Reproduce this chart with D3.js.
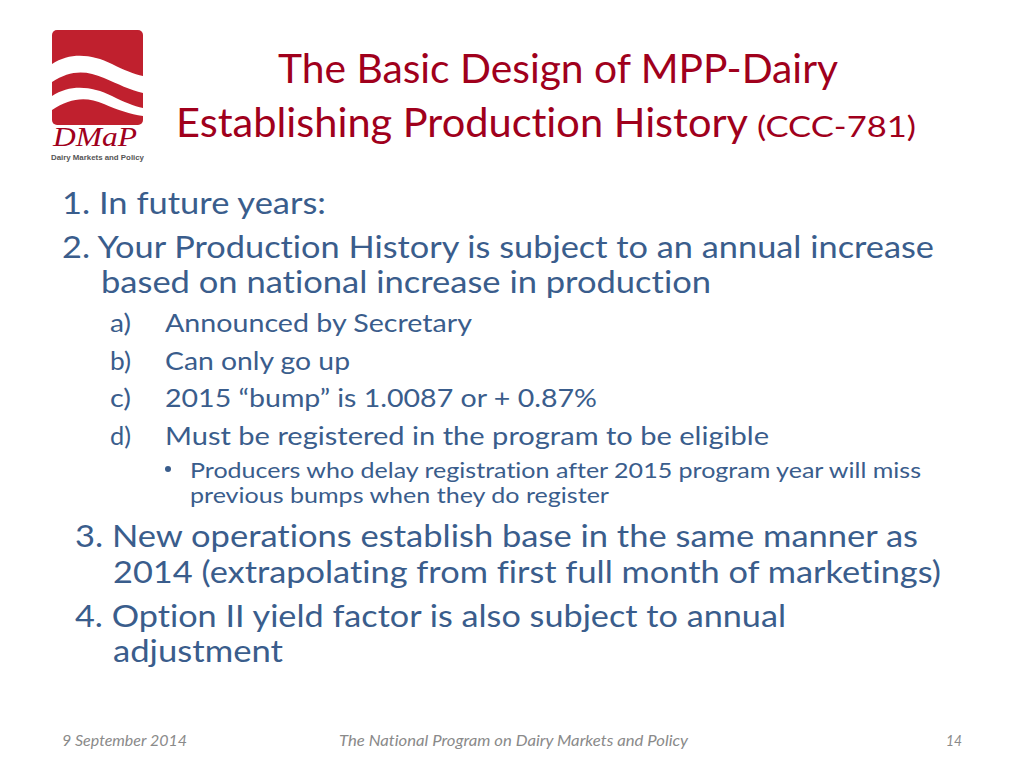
<!DOCTYPE html>
<html>
<head>
<meta charset="utf-8">
<script src="https://cdn.jsdelivr.net/npm/d3@7"></script>
<style>
  html, body { margin: 0; padding: 0; background: #fff; }
  svg { display: block; }
  text { font-variant-ligatures: none; font-feature-settings: "liga" 0, "clig" 0; }
</style>
</head>
<body>
<svg id="slide" width="1024" height="768"></svg>
<script>
// ---- content (text only) ----
const titleLines = ["The Basic Design of MPP-Dairy", "Establishing Production History"];
const titleSuffix = "(CCC-781)";
const levelOne = ["1. In future years:", "2. Your Production History is subject to an annual increase", "based on national increase in production"];
const subLabels = ["a)", "b)", "c)", "d)"];
const subItems = ["Announced by Secretary", "Can only go up", "2015 \u201cbump\u201d is 1.0087 or + 0.87%", "Must be registered in the program to be eligible"];
const bulletLines = ["Producers who delay registration after 2015 program year will miss", "previous bumps when they do register"];
const laterLines = ["3. New operations establish base in the same manner as", "2014 (extrapolating from first full month of marketings)", "4. Option II yield factor is also subject to annual", "adjustment"];
const footerTexts = ["9 September 2014", "The National Program on Dairy Markets and Policy", "14"];
const logoTexts = ["DMaP", "Dairy Markets and Policy"];

// ---- layout ----
const svg = d3.select("#slide");
const FONT = "Lato, 'Open Sans', sans-serif";
const RED = "#a0001c";
const BLUE = "#3a5d8c";
const GREY = "#8a8a8a";

function put(g, str, x, y, x2, size, color, opts = {}) {
  const t = g.append("text")
    .attr("x", x).attr("y", y)
    .attr("font-family", opts.family || FONT)
    .attr("font-size", size)
    .attr("fill", color)
    .text(str);
  if (opts.italic) t.attr("font-style", "italic");
  if (opts.weight) t.attr("font-weight", opts.weight);
  if (x2 != null) t.attr("textLength", x2 - x).attr("lengthAdjust", "spacingAndGlyphs");
  return t;
}

// Logo
const logo = svg.append("g");
logo.append("rect").attr("x", 52).attr("y", 30).attr("width", 91).attr("height", 95).attr("rx", 5).attr("fill", "#c0202e");
logo.append("path").attr("fill", "#fff")
  .attr("d", "M52,64 C70,52 92,54 112,64 C124,70 134,74 143,76 L143,93 C130,90 118,84 104,78 C86,70 70,70 52,82 Z");
logo.append("path").attr("fill", "#fff")
  .attr("d", "M52,96 C70,84 92,86 112,96 C124,102 134,106 143,108 L143,116 C130,114 118,110 104,104 C86,96 70,98 52,110 Z");
put(logo, logoTexts[0], 53, 146, 137, 27, "#a0001c", { italic: true, family: "'Liberation Serif', 'DejaVu Serif', serif" });
put(logo, logoTexts[1], 51, 159.5, 144, 8, "#555", { weight: "bold", family: "'Liberation Sans', Arial, sans-serif" });

// Title
const tg = svg.append("g");
const titleLayout = [[278, 83, 838, 41], [176, 137, 748, 41]];
titleLines.forEach((s, i) => { const L = titleLayout[i]; put(tg, s, L[0], L[1], L[2], L[3], RED); });
put(tg, titleSuffix, 757, 137, 916, 29, RED);

// Body
const bg = svg.append("g");
const l1Layout = [[62, 214, 326, 30], [62, 258, 934, 30], [101, 293, 711, 30]];
levelOne.forEach((s, i) => { const L = l1Layout[i]; put(bg, s, L[0], L[1], L[2], L[3], BLUE); });

const subY = [332, 370, 407, 445];
const subEnd = [472, 350, 597, 769];
subItems.forEach((s, i) => {
  put(bg, subLabels[i], 110, subY[i], 131, 25, BLUE);
  put(bg, s, 165, subY[i], subEnd[i], 25, BLUE);
});

bg.append("circle").attr("cx", 168).attr("cy", 469).attr("r", 3).attr("fill", BLUE);
const bulLayout = [[190, 478, 921], [190, 503, 609]];
bulletLines.forEach((s, i) => { const L = bulLayout[i]; put(bg, s, L[0], L[1], L[2], 21, BLUE); });

const laterLayout = [[75, 547, 918], [113, 583, 941], [75, 627, 786], [113, 662, 283]];
laterLines.forEach((s, i) => { const L = laterLayout[i]; put(bg, s, L[0], L[1], L[2], 30, BLUE); });

// Footer
const fg = svg.append("g");
const footLayout = [[62, 187], [339, 688], [946, 962]];
footerTexts.forEach((s, i) => { const L = footLayout[i]; put(fg, s, L[0], 746, L[1], 14.5, GREY, { italic: true }); });
</script>
</body>
</html>
